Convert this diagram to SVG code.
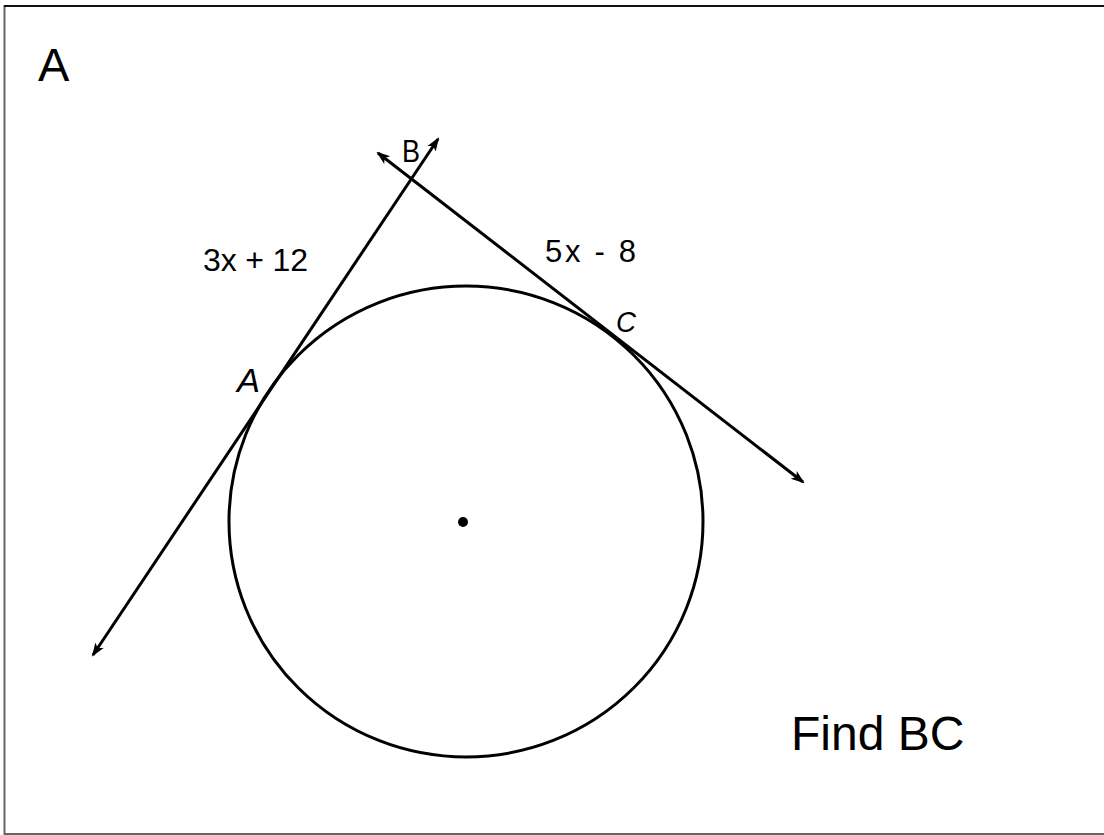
<svg xmlns="http://www.w3.org/2000/svg" width="1104" height="835" viewBox="0 0 1104 835">
<defs>
<style>
.ln{stroke:#000;stroke-width:3;fill:none}
.lbl{font-family:"Liberation Sans",Arial,sans-serif;fill:#000}
</style>
<marker id="ah" viewBox="0 0 10 10" refX="8.5" refY="5" markerWidth="4.6" markerHeight="4.6" orient="auto-start-reverse" markerUnits="strokeWidth">
<path d="M0,1.4 L10,5 L0,8.6 L2.5,5 z" fill="#000"/>
</marker>
</defs>
<rect x="0" y="0" width="1104" height="835" fill="#fff"/>
<line x1="4.5" y1="5" x2="4.5" y2="835" stroke="#666" stroke-width="2"/>
<line x1="4" y1="834" x2="1104" y2="834" stroke="#666" stroke-width="2"/>
<line x1="4" y1="6" x2="1104" y2="6" stroke="#111" stroke-width="2"/>
<g id="circle">
<ellipse cx="466" cy="521.5" rx="237" ry="235.5" class="ln"/>
<circle cx="463" cy="522" r="5" fill="#000"/>
</g>
<g id="connectors">
<line x1="93" y1="655" x2="438" y2="139" class="ln" marker-start="url(#ah)" marker-end="url(#ah)"/>
<line x1="378" y1="153" x2="803" y2="482" class="ln" marker-start="url(#ah)" marker-end="url(#ah)"/>
</g>
<g id="labels">
<text x="38" y="81" class="lbl" font-size="47">A</text>
<text x="402" y="162" class="lbl" font-size="32" textLength="18" lengthAdjust="spacingAndGlyphs">B</text>
<text x="237" y="392" class="lbl" font-size="33" font-style="italic" textLength="23" lengthAdjust="spacingAndGlyphs">A</text>
<text x="616" y="332" class="lbl" font-size="30" font-style="italic" textLength="20" lengthAdjust="spacingAndGlyphs">C</text>
<text x="203" y="271" class="lbl" font-size="32" textLength="105">3x + 12</text>
<text x="545" y="262" class="lbl" font-size="31" textLength="91">5x - 8</text>
<text x="791" y="750" class="lbl" font-size="48">Find BC</text>
</g>
</svg>
